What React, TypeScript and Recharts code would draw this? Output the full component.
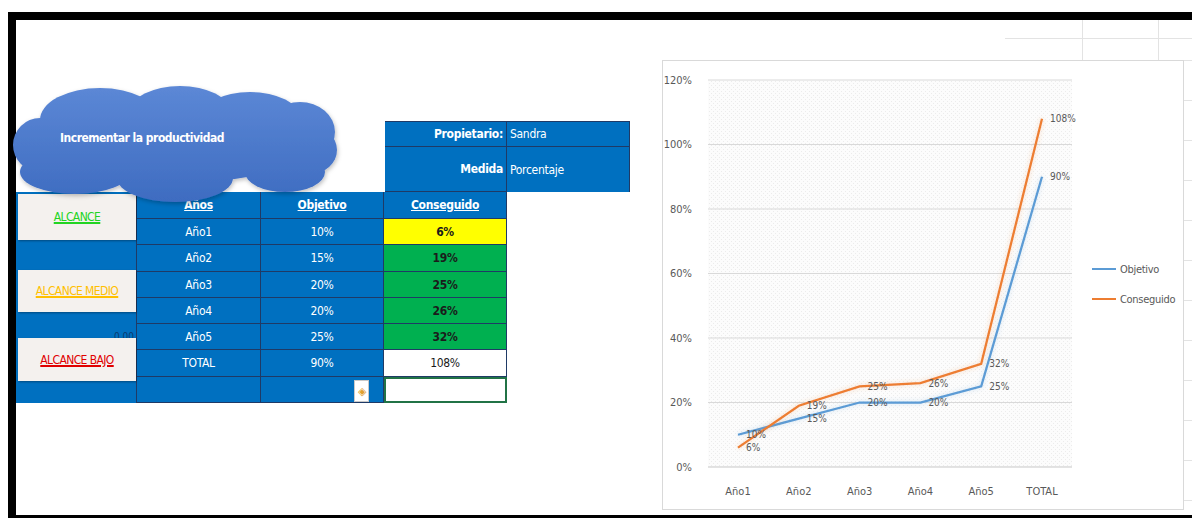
import React from "react";
import {
  LineChart,
  Line,
  XAxis,
  YAxis,
  CartesianGrid,
  Legend,
  LabelList,
} from "recharts";

const years = ["Año1", "Año2", "Año3", "Año4", "Año5", "TOTAL"];
const objetivo = [10, 15, 20, 20, 25, 90];
const conseguido = [6, 19, 25, 26, 32, 108];
const yTicks = [0, 20, 40, 60, 80, 100, 120];

const chartData = years.map((year, i) => ({
  year,
  Objetivo: objetivo[i],
  Conseguido: conseguido[i],
}));

const FONT = "'DejaVu Sans Condensed', 'Liberation Sans Narrow', 'DejaVu Sans', sans-serif";
const BLUE = "#0070C0";
const NAVY = "#1F3A66";
const pct = (v: number) => `${v}%`;

// table geometry
const colX = [16, 137, 261, 384, 507];
const rowY = [192, 219, 245, 272, 298, 324, 350, 377, 403];

const cellFill = (row: number) => {
  if (row === 1) return "#FFFF00";
  if (row >= 2 && row <= 5) return "#00B050";
  if (row >= 6) return "#FFFFFF";
  return BLUE;
};

const Cell = ({
  x0,
  x1,
  y0,
  y1,
  bg,
  children,
  style,
}: {
  x0: number;
  x1: number;
  y0: number;
  y1: number;
  bg: string;
  children?: React.ReactNode;
  style?: React.CSSProperties;
}) => (
  <div
    style={{
      position: "absolute",
      left: x0,
      top: y0,
      width: x1 - x0,
      height: y1 - y0,
      background: bg,
      boxSizing: "border-box",
      borderRight: `1px solid ${NAVY}`,
      borderBottom: `1px solid ${NAVY}`,
      display: "flex",
      alignItems: "center",
      justifyContent: "center",
      fontFamily: FONT,
      fontStretch: "condensed",
      fontSize: 12,
      letterSpacing: -0.3,
      color: "#fff",
      ...style,
    }}
  >
    {children}
  </div>
);

const Button = ({ top, height, color, label }: { top: number; height: number; color: string; label: string }) => (
  <div
    style={{
      position: "absolute",
      left: 18,
      top,
      width: 118,
      height,
      background: "#F4F1EE",
      boxShadow: "1px 1px 2px rgba(0,0,0,0.35)",
      display: "flex",
      alignItems: "center",
      justifyContent: "center",
      fontFamily: FONT,
      fontStretch: "condensed",
      fontSize: 12,
      letterSpacing: -0.6,
      color,
      textDecoration: "underline",
      textDecorationThickness: 2,
    }}
  >
    {label}
  </div>
);

// cloud callout, drawn in page coordinates
const Cloud = () => (
  <svg width={360} height={230} style={{ position: "absolute", left: 0, top: 0 }}>
    <defs>
      <linearGradient id="cloudFill" gradientUnits="userSpaceOnUse" x1="0" y1="85" x2="0" y2="205">
        <stop offset="0%" stopColor="#5C88D6" />
        <stop offset="100%" stopColor="#3D6BC0" />
      </linearGradient>
      <filter id="cloudShadow" x="-10%" y="-10%" width="120%" height="130%">
        <feDropShadow dx="1" dy="2" stdDeviation="2" floodColor="#000" floodOpacity="0.25" />
      </filter>
    </defs>
    <g fill="url(#cloudFill)" filter="url(#cloudShadow)">
      <ellipse cx={100} cy={120} rx={60} ry={32} />
      <ellipse cx={180} cy={112} rx={50} ry={26} />
      <ellipse cx={250} cy={118} rx={50} ry={26} />
      <ellipse cx={300} cy={132} rx={35} ry={30} />
      <ellipse cx={310} cy={150} rx={27} ry={24} />
      <ellipse cx={285} cy={172} rx={40} ry={20} />
      <ellipse cx={175} cy={178} rx={58} ry={24} />
      <ellipse cx={75} cy={172} rx={55} ry={22} />
      <ellipse cx={40} cy={145} rx={27} ry={27} />
      <ellipse cx={175} cy={148} rx={130} ry={35} />
    </g>
    <text
      x={142}
      y={142}
      textAnchor="middle"
      fill="#fff"
      fontFamily={FONT}
      fontSize={12}
      fontWeight="bold"
      letterSpacing={-0.5}
      style={{ fontStretch: "condensed" }}
    >
      Incrementar la productividad
    </text>
  </svg>
);

const renderLegend = () => (
  <div style={{ fontFamily: FONT, fontStretch: "condensed", fontSize: 11, color: "#595959", letterSpacing: -0.3 }}>
    {[
      { name: "Objetivo", color: "#5B9BD5" },
      { name: "Conseguido", color: "#ED7D31" },
    ].map((item) => (
      <div key={item.name} style={{ display: "flex", alignItems: "center", height: 30 }}>
        <span style={{ display: "inline-block", width: 24, height: 2, background: item.color, marginRight: 4 }} />
        {item.name}
      </div>
    ))}
  </div>
);

const tickStyle = { fill: "#595959", fontSize: 11, fontFamily: FONT };

export default function App() {
  const header = ["Años", "Objetivo", "Conseguido"];
  return (
    <div
      style={{
        position: "absolute",
        left: 0,
        top: 0,
        width: 1192,
        height: 518,
        background: "#fff",
        overflow: "hidden",
      }}
    >
      {/* black frame */}
      <div style={{ position: "absolute", left: 8, top: 12, width: 1184, height: 8, background: "#000" }} />
      <div style={{ position: "absolute", left: 8, top: 12, width: 8, height: 506, background: "#000" }} />
      <div style={{ position: "absolute", left: 8, top: 515, width: 1184, height: 3, background: "#000" }} />

      {/* sheet gridlines on the right */}
      <div style={{ position: "absolute", left: 1005, top: 38, width: 187, height: 1, background: "#e3e3e3" }} />
      <div style={{ position: "absolute", left: 1082, top: 20, width: 1, height: 40, background: "#e3e3e3" }} />
      <div style={{ position: "absolute", left: 1158, top: 20, width: 1, height: 40, background: "#e3e3e3" }} />
      {[60, 100, 140, 180, 220, 260, 300, 340, 380, 420, 460, 500].map((y) => (
        <div key={y} style={{ position: "absolute", left: 1184, top: y, width: 8, height: 1, background: "#e3e3e3" }} />
      ))}

      {/* owner box */}
      <Cell x0={385} x1={507} y0={121} y1={147} bg={BLUE} style={{ justifyContent: "flex-end", paddingRight: 3, fontWeight: "bold", borderTop: `1px solid ${NAVY}` }}>
        Propietario:
      </Cell>
      <Cell x0={507} x1={630} y0={121} y1={147} bg={BLUE} style={{ justifyContent: "flex-start", paddingLeft: 3, borderTop: `1px solid ${NAVY}` }}>
        Sandra
      </Cell>
      <Cell x0={385} x1={507} y0={147} y1={192} bg={BLUE} style={{ justifyContent: "flex-end", paddingRight: 3, fontWeight: "bold" }}>
        Medida
      </Cell>
      <Cell x0={507} x1={630} y0={147} y1={192} bg={BLUE} style={{ justifyContent: "flex-start", paddingLeft: 3, borderBottom: "none" }}>
        Porcentaje
      </Cell>

      {/* left column with buttons */}
      <div
        style={{
          position: "absolute",
          left: colX[0],
          top: rowY[0],
          width: colX[1] - colX[0],
          height: rowY[8] - rowY[0],
          background: BLUE,
          borderRight: `1px solid ${NAVY}`,
          boxSizing: "border-box",
        }}
      />
      <div style={{ position: "absolute", left: 114, top: 331, fontFamily: FONT, fontSize: 10, color: "#0b3a6e" }}>0.00</div>
      <Button top={194} height={46} color="#22D422" label="ALCANCE" />
      <Button top={270} height={42} color="#FFC000" label="ALCANCE MEDIO" />
      <Button top={338} height={43} color="#E00000" label="ALCANCE BAJO" />

      {/* header row */}
      {header.map((h, c) => (
        <Cell key={h} x0={colX[c + 1]} x1={colX[c + 2]} y0={rowY[0]} y1={rowY[1]} bg={BLUE} style={{ fontWeight: "bold", textDecoration: "underline" }}>
          {h}
        </Cell>
      ))}

      {/* data rows */}
      {years.map((year, r) => (
        <React.Fragment key={year}>
          <Cell x0={colX[1]} x1={colX[2]} y0={rowY[r + 1]} y1={rowY[r + 2]} bg={BLUE}>
            {year}
          </Cell>
          <Cell x0={colX[2]} x1={colX[3]} y0={rowY[r + 1]} y1={rowY[r + 2]} bg={BLUE}>
            {pct(objetivo[r])}
          </Cell>
          <Cell
            x0={colX[3]}
            x1={colX[4]}
            y0={rowY[r + 1]}
            y1={rowY[r + 2]}
            bg={cellFill(r + 1)}
            style={{ color: "#1b1b1b", fontWeight: r < 5 ? "bold" : "normal" }}
          >
            {pct(conseguido[r])}
          </Cell>
        </React.Fragment>
      ))}

      {/* empty last row */}
      <Cell x0={colX[1]} x1={colX[2]} y0={rowY[7]} y1={rowY[8]} bg={BLUE} />
      <Cell x0={colX[2]} x1={colX[3]} y0={rowY[7]} y1={rowY[8]} bg={BLUE} />
      <div
        style={{
          position: "absolute",
          left: colX[3],
          top: rowY[7],
          width: colX[4] - colX[3],
          height: rowY[8] - rowY[7],
          background: "#fff",
          border: "2px solid #217346",
          boxSizing: "border-box",
        }}
      />
      <div
        style={{
          position: "absolute",
          left: 354,
          top: 380,
          width: 15,
          height: 22,
          background: "#fff",
          border: "1px solid #c9c9c9",
          boxSizing: "border-box",
          display: "flex",
          alignItems: "center",
          justifyContent: "center",
          color: "#E0A030",
          fontSize: 11,
        }}
      >
        ◈
      </div>

      <Cloud />

      {/* chart */}
      <div
        style={{
          position: "absolute",
          left: 662,
          top: 60,
          width: 522,
          height: 450,
          border: "1px solid #d9d9d9",
          boxSizing: "border-box",
          background: "#fff",
        }}
      >
        <LineChart
          width={520}
          height={448}
          data={chartData}
          margin={{ top: 19, right: 21, bottom: 12, left: 0 }}
        >
          <defs>
            <pattern id="hatch" width="4" height="4" patternUnits="userSpaceOnUse">
              <rect width="4" height="4" fill="#fcfcfc" />
              <rect width="1" height="1" fill="#ececec" />
              <rect x="2" y="2" width="1" height="1" fill="#ececec" />
            </pattern>
            <filter id="glow" x="-20%" y="-20%" width="140%" height="140%">
              <feGaussianBlur in="SourceGraphic" stdDeviation="2.5" result="blur" />
              <feComponentTransfer in="blur" result="soft">
                <feFuncA type="linear" slope="0.3" />
              </feComponentTransfer>
              <feMerge>
                <feMergeNode in="soft" />
                <feMergeNode in="SourceGraphic" />
              </feMerge>
            </filter>
          </defs>
          <CartesianGrid vertical={false} stroke="#d9d9d9" fill="url(#hatch)" />
          <XAxis
            dataKey="year"
            padding={{ left: 30, right: 30 }}
            axisLine={{ stroke: "#d9d9d9" }}
            tickLine={false}
            tick={tickStyle}
            tickMargin={14}
          />
          <YAxis
            domain={[0, 120]}
            ticks={yTicks}
            tickFormatter={pct}
            axisLine={false}
            tickLine={false}
            width={45}
            tick={tickStyle}
            tickMargin={10}
          />
          <Legend
            layout="vertical"
            align="right"
            verticalAlign="middle"
            width={90}
            content={renderLegend}
            wrapperStyle={{ left: 429, top: 193, width: 90 }}
          />
          <Line
            type="linear"
            dataKey="Objetivo"
            stroke="#5B9BD5"
            strokeWidth={2.25}
            filter="url(#glow)"
            dot={false}
            isAnimationActive={false}
          >
            <LabelList dataKey="Objetivo" position="right" offset={8} formatter={pct} fill="#595959" fontSize={10} fontFamily={FONT} />
          </Line>
          <Line
            type="linear"
            dataKey="Conseguido"
            stroke="#ED7D31"
            strokeWidth={2.25}
            filter="url(#glow)"
            dot={false}
            isAnimationActive={false}
          >
            <LabelList dataKey="Conseguido" position="right" offset={8} formatter={pct} fill="#595959" fontSize={10} fontFamily={FONT} />
          </Line>
        </LineChart>
      </div>
    </div>
  );
}
